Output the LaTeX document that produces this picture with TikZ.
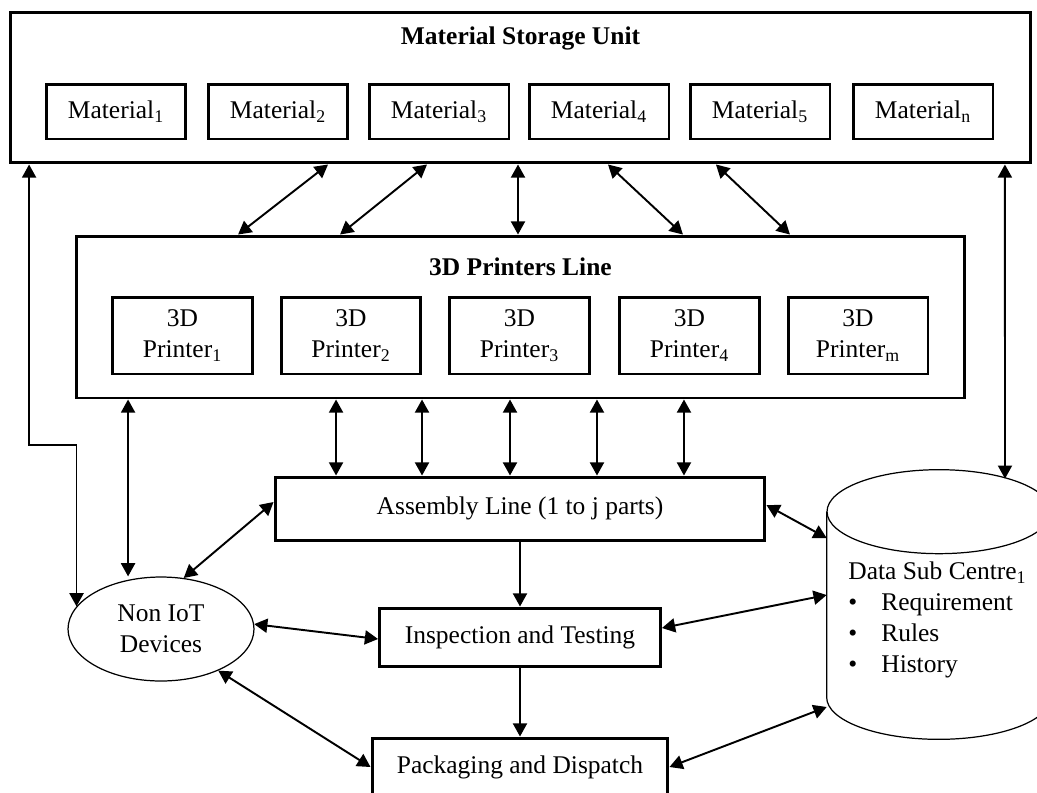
\documentclass[tikz,border=0pt]{standalone}
\usepackage{fontspec}
\setmainfont{Liberation Serif}
\usepackage{tikz}
\usetikzlibrary{arrows.meta}
\usetikzlibrary{shapes.geometric}

\begin{document}
\begin{tikzpicture}[x=0.02cm,y=-0.02cm,
        every node/.style={font=\fontsize{14.5}{17.5}\selectfont},
        outerbox/.style={draw,line width=1.7pt,inner sep=0pt},
        unitbox/.style={draw,line width=1.7pt,inner sep=0pt,minimum width=2.8cm,align=center},
        titletext/.style={font=\fontsize{14.5}{17.5}\selectfont\bfseries},
        biarrow/.style={line width=1.1pt,{Triangle[length=7.5pt,width=8pt]}-{Triangle[length=7.5pt,width=8pt]}},
        onearrow/.style={line width=1.1pt,-{Triangle[length=7.5pt,width=8pt]}}]
        \useasboundingbox (0,0) rectangle (1037,792);
        \clip (0,0) rectangle (1037,792);
        \node[outerbox,minimum width=20.42cm,minimum height=3.02cm] (storage) at (520.5,87.5) {};
        \node[titletext] (storagetitle) at (520.5,38) {Material Storage Unit};
        \node[unitbox,minimum height=1.1cm] (mat1) at (116,111.5) {Material\textsubscript{1}};
        \node[unitbox,minimum height=1.1cm] (mat2) at (278,111.5) {Material\textsubscript{2}};
        \node[unitbox,minimum height=1.1cm] (mat3) at (439,111.5) {Material\textsubscript{3}};
        \node[unitbox,minimum height=1.1cm] (mat4) at (599,111.5) {Material\textsubscript{4}};
        \node[unitbox,minimum height=1.1cm] (mat5) at (760,111.5) {Material\textsubscript{5}};
        \node[unitbox,minimum height=1.1cm] (matn) at (923,111.5) {Material\textsubscript{n}};

        \node[outerbox,minimum width=17.78cm,minimum height=3.24cm] (printers) at (520.5,317) {};
        \node[titletext] (printerstitle) at (520.5,267) {3D Printers Line};
        \node[unitbox,minimum height=1.54cm] (prn1) at (182.5,335.5) {3D\\Printer\textsubscript{1}};
        \node[unitbox,minimum height=1.54cm] (prn2) at (351,335.5) {3D\\Printer\textsubscript{2}};
        \node[unitbox,minimum height=1.54cm] (prn3) at (519.5,335.5) {3D\\Printer\textsubscript{3}};
        \node[unitbox,minimum height=1.54cm] (prn4) at (689.5,335.5) {3D\\Printer\textsubscript{4}};
        \node[unitbox,minimum height=1.54cm] (prnm) at (858,335.5) {3D\\Printer\textsubscript{m}};

        \node[outerbox,minimum width=9.8cm,minimum height=1.26cm] (assembly) at (520,508.5) {Assembly Line (1 to j parts)};
        \node[outerbox,minimum width=5.62cm,minimum height=1.16cm] (inspect) at (520,637) {Inspection and Testing};
        \node[outerbox,minimum width=5.92cm,minimum height=1.16cm] (pack) at (520,767) {Packaging and Dispatch};
        \node[draw,ellipse,line width=0.7pt,inner sep=0pt,minimum width=3.72cm,minimum height=2.08cm,align=center] (noniot) at (161,629) {Non IoT\\Devices};

        \node[inner sep=0pt,minimum width=4.48cm,minimum height=5.38cm] (data) at (939,604.5) {};
        \draw[line width=0.7pt] ([yshift=-0.84cm]data.north) ellipse [x radius=2.24cm,y radius=0.84cm];
        \draw[line width=0.7pt] ([yshift=-0.84cm]data.north west) -- ([yshift=0.84cm]data.south west)
            arc[start angle=180,end angle=360,x radius=2.24cm,y radius=0.84cm] -- ([yshift=-0.84cm]data.north east);
        \node[anchor=west,align=left,inner sep=0pt] (datatext) at (848,620) {Data Sub Centre\textsubscript{1}\\
            \makebox[0.66cm][l]{\textbullet}Requirement\\
            \makebox[0.66cm][l]{\textbullet}Rules\\
            \makebox[0.66cm][l]{\textbullet}History};

        \draw[biarrow] ([xshift=-3.85cm]storage.south) -- ([xshift=-5.65cm]printers.north);
        \draw[biarrow] ([xshift=-1.87cm]storage.south) -- ([xshift=-3.61cm]printers.north);
        \draw[biarrow] ([xshift=-0.05cm]storage.south) -- ([xshift=-0.05cm]printers.north);
        \draw[biarrow] ([xshift=1.75cm]storage.south) -- ([xshift=3.25cm]printers.north);
        \draw[biarrow] ([xshift=3.91cm]storage.south) -- ([xshift=5.39cm]printers.north);
        \draw[biarrow] ([xshift=9.69cm]storage.south) -- ([xshift=1.32cm,yshift=-0.18cm]data.north);
        \draw[biarrow] (noniot.165) -- ++(0,3.22cm) -| ([xshift=-9.83cm]storage.south);
        \draw[biarrow] ([xshift=-7.85cm]printers.south) -- ([xshift=-7.85cm]printers.south |- noniot.north);

        \draw[biarrow] ([xshift=-3.69cm]printers.south) -- ([xshift=-3.69cm]printers.south |- assembly.north);
        \draw[biarrow] ([xshift=-1.97cm]printers.south) -- ([xshift=-1.97cm]printers.south |- assembly.north);
        \draw[biarrow] ([xshift=-0.21cm]printers.south) -- ([xshift=-0.21cm]printers.south |- assembly.north);
        \draw[biarrow] ([xshift=1.53cm]printers.south) -- ([xshift=1.53cm]printers.south |- assembly.north);
        \draw[biarrow] ([xshift=3.27cm]printers.south) -- ([xshift=3.27cm]printers.south |- assembly.north);

        \draw[onearrow] (assembly.south) -- (inspect.north);
        \draw[onearrow] (inspect.south) -- (pack.north);

        \draw[biarrow] (noniot.66) -- ([yshift=0.13cm]assembly.west);
        \draw[biarrow] (noniot.3) -- ([yshift=-0.04cm]inspect.west);
        \draw[biarrow] (noniot.-36) -- (pack.west);

        \draw[biarrow] ([yshift=0.07cm]assembly.east) -- ([yshift=1.33cm]data.west);
        \draw[biarrow] ([yshift=0.18cm]inspect.east) -- ([yshift=0.19cm]data.west);
        \draw[biarrow] (pack.east) -- ([yshift=-2.05cm]data.west);
\end{tikzpicture}
\end{document}
